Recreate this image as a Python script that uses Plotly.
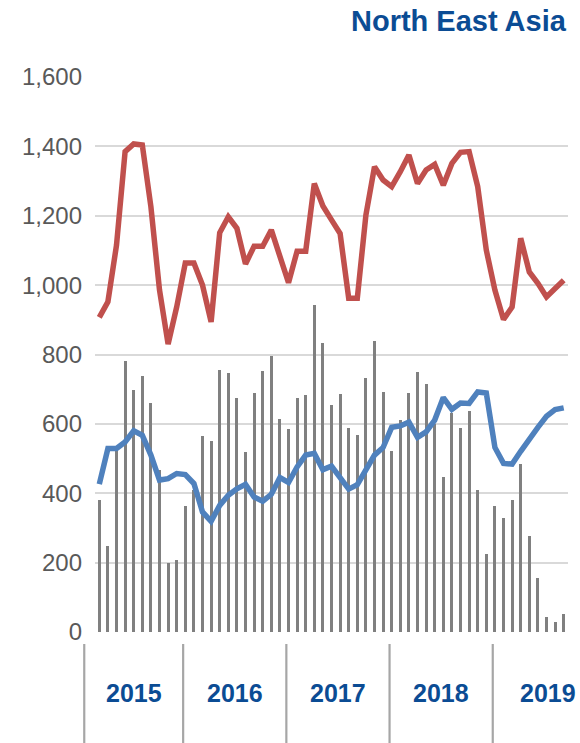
import plotly.graph_objects as go

# Monthly data, Mar 2015 .. Sep 2019
months = [f"{2015 + (i + 2) // 12}-{(i + 2) % 12 + 1:02d}" for i in range(55)]

bars = [380, 247, 525, 781, 699, 737, 660, 466, 199, 209,
        364, 410, 565, 550, 755, 748, 675, 519, 690, 752,
        797, 613, 584, 675, 683, 942, 833, 654, 685, 588,
        567, 732, 838, 693, 521, 611, 690, 750, 716, 600,
        447, 630, 587, 637, 408, 226, 363, 330, 380, 483,
        278, 157, 44, 29, 52]

red = [907, 952, 1115, 1385, 1407, 1404, 1226, 986, 830, 937,
       1064, 1064, 1000, 894, 1151, 1197, 1164, 1061, 1112, 1112,
       1159, 1082, 1007, 1098, 1098, 1293, 1228, 1188, 1149, 962,
       962, 1202, 1341, 1303, 1284, 1327, 1375, 1293, 1332, 1348,
       1288, 1351, 1383, 1385, 1284, 1101, 986, 901, 937, 1135,
       1038, 1005, 966, 990, 1014]

blue = [426, 529, 529, 548, 580, 567, 510, 438, 442, 457,
        454, 428, 346, 319, 365, 394, 413, 426, 389, 377,
        397, 445, 431, 476, 510, 515, 468, 478, 445, 412,
        425, 466, 510, 532, 590, 594, 605, 561, 577, 611,
        676, 642, 660, 659, 692, 689, 532, 486, 484, 521,
        558, 590, 622, 641, 646]

years = ["2015", "2016", "2017", "2018", "2019"]
title_text = "North East Asia"

W, H = 580, 743
ML, MR, MT, MB = 95, 12, 77, 111
plot_h = H - MT - MB
n = len(months)

BLUE_TXT = "#0B4C94"
FONT = "Liberation Sans, Arial, sans-serif"

fig = go.Figure()
fig.add_trace(go.Bar(x=months, y=bars, width=0.35, marker_color="#808080",
                     marker_line_width=0, showlegend=False))
fig.add_trace(go.Scatter(x=months, y=blue, mode="lines",
                         line=dict(color="#4F81BD", width=5.5), showlegend=False))
fig.add_trace(go.Scatter(x=months, y=red, mode="lines",
                         line=dict(color="#C0504D", width=5.5), showlegend=False))


def xpaper(v):
    return (v + 0.5) / n


def ypaper(py):
    return (H - MB - py) / plot_h


# year boundaries from the month list
first_y, first_m = int(months[0][:4]), int(months[0][5:])
bounds = []
for y in years + [str(int(years[-1]) + 1)]:
    jan_idx = (int(y) - first_y) * 12 - (first_m - 1)
    bounds.append(max(jan_idx - 0.5 + 0.25, -1.75))
bounds[-1] += 0.75  # last year's span runs slightly wider in the source

shapes = []
for b in bounds[:-1]:
    shapes.append(dict(type="line", xref="paper", yref="paper",
                       x0=xpaper(b), x1=xpaper(b), y0=ypaper(644), y1=ypaper(H),
                       line=dict(color="#A6A6A6", width=2.2)))

annotations = []
for i, y in enumerate(years):
    c = (bounds[i] + bounds[i + 1]) / 2
    annotations.append(dict(text=f"<b>{y}</b>", xref="paper", yref="paper",
                            x=xpaper(c), y=ypaper(693), xanchor="center",
                            yanchor="middle", showarrow=False,
                            font=dict(size=25, color=BLUE_TXT, family=FONT)))
annotations.append(dict(text=f"<b>{title_text}</b>", xref="paper", yref="paper",
                        x=(W - ML - 11) / (W - ML - MR), y=ypaper(21),
                        xanchor="right", yanchor="middle", showarrow=False,
                        font=dict(size=29, color=BLUE_TXT, family=FONT)))

fig.update_layout(
    width=W, height=H,
    margin=dict(l=ML, r=MR, t=MT, b=MB, pad=0),
    paper_bgcolor="white", plot_bgcolor="white",
    bargap=0,
    shapes=shapes, annotations=annotations,
    font=dict(family=FONT),
    xaxis=dict(type="category", range=[-0.5, n - 0.5], showticklabels=False,
               showgrid=False, zeroline=False, showline=False, ticks=""),
    yaxis=dict(range=[0, 1600], dtick=200, tickformat=",", showgrid=True,
               gridcolor="#D9D9D9", gridwidth=1.5, zeroline=False, showline=False,
               ticks="", ticklabelstandoff=12,
               tickfont=dict(size=24, color="#595959", family=FONT)),
)

fig.write_html("out.html")
